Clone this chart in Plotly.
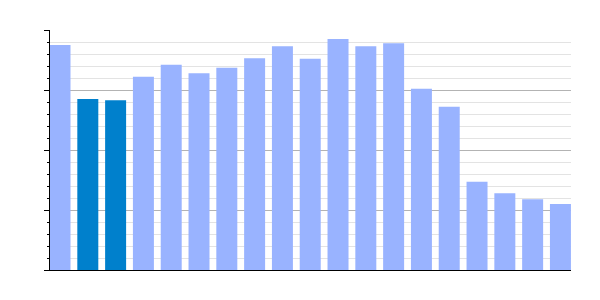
import plotly.graph_objects as go

categories = list(range(19))
values = [3.75, 2.85, 2.83, 3.22, 3.42, 3.28, 3.37, 3.53, 3.73, 3.52,
          3.85, 3.73, 3.78, 3.02, 2.72, 1.47, 1.28, 1.18, 1.10]
highlight = [False, True, True] + [False] * 16

light = "#99b3ff"
dark = "#0080cc"
colors = [dark if h else light for h in highlight]

fig = go.Figure(go.Bar(x=categories, y=values, marker=dict(color=colors, line=dict(width=0)),
                       hoverinfo="skip"))

fig.update_layout(
    width=600, height=300,
    margin=dict(l=50, r=29, t=30, b=30),
    paper_bgcolor="white", plot_bgcolor="white",
    bargap=0.245, showlegend=False,
)
fig.update_xaxes(range=[-0.36, 18.38], showticklabels=False, ticks="", showgrid=False,
                 showline=True, linecolor="black", linewidth=1, zeroline=False)
fig.update_yaxes(range=[0, 4], dtick=1, showticklabels=False, ticks="outside", ticklen=5,
                 tickcolor="black", tickwidth=1,
                 showgrid=True, gridcolor="#b3b3b3", gridwidth=1,
                 showline=True, linecolor="black", linewidth=1, zeroline=False,
                 minor=dict(dtick=0.2, ticks="outside", ticklen=2, tickcolor="black",
                            showgrid=True, gridcolor="#e3e3e3", gridwidth=1))

fig.write_html("out.html")
